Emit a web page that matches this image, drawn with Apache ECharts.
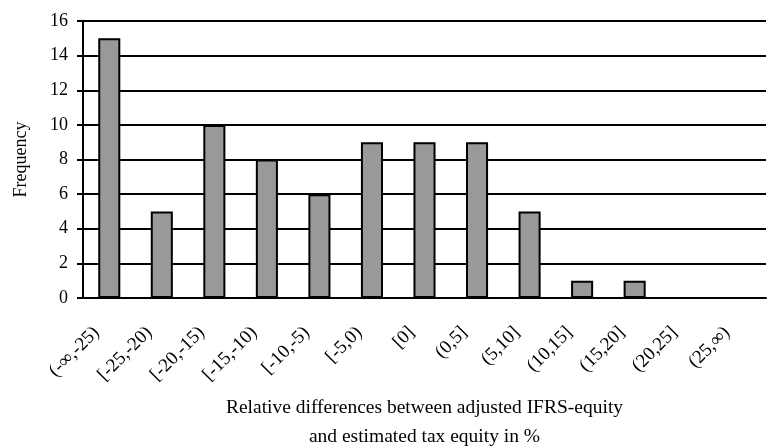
<!DOCTYPE html>
<html><head><meta charset="utf-8">
<script src="https://cdn.jsdelivr.net/npm/echarts@6/dist/echarts.min.js"></script>
<style>html,body{margin:0;padding:0;background:#fff;overflow:hidden}#c{width:767px;height:447px}</style>
</head><body><div id="c"></div>
<script>
const categories = ["(-\u221e,-25)","[-25,-20)","[-20,-15)","[-15,-10)","[-10,-5)","[-5,0)","[0]","(0,5]","(5,10]","(10,15]","(15,20]","(20,25]","(25,\u221e)"];
const frequency = [15,5,10,8,6,9,9,9,5,1,1,0,0];
const yTicks = {min:0, max:16, interval:2};
const F = "'Liberation Serif','DejaVu Serif',serif";
const chart = echarts.init(document.getElementById('c'));
chart.setOption({
  animation:false,
  grid:{left:83,right:1,top:21,bottom:149,containLabel:false,outerBoundsMode:'none'},
  xAxis:{
    type:'category', data:categories,
    axisLine:{lineStyle:{color:'#000',width:2}},
    axisTick:{show:false},
    axisLabel:{rotate:45,fontFamily:F,fontSize:19,color:'#000',margin:19,interval:0,padding:[0,18,0,0]},
    name:'Relative differences between adjusted IFRS-equity\nand estimated tax equity in %',
    nameLocation:'middle', nameGap:95,
    nameTextStyle:{fontFamily:F,fontSize:19.5,color:'#000',lineHeight:29}
  },
  yAxis:{
    type:'value', min:yTicks.min, max:yTicks.max, interval:yTicks.interval,
    axisLine:{show:true,lineStyle:{color:'#000',width:2}},
    axisTick:{show:true,inside:false,length:6,lineStyle:{color:'#000',width:2}},
    axisLabel:{fontFamily:F,fontSize:18,color:'#000',margin:15},
    splitLine:{show:true,lineStyle:{color:'#000',width:2}},
    name:'Frequency', nameLocation:'middle', nameGap:53, nameRotate:90,
    nameTextStyle:{fontFamily:F,fontSize:18,color:'#000'}
  },
  series:[{
    type:'bar', data:frequency, barWidth:'42%',
    itemStyle:{color:'#999999',borderColor:'#000',borderWidth:2}
  }]
});
</script></body></html>
